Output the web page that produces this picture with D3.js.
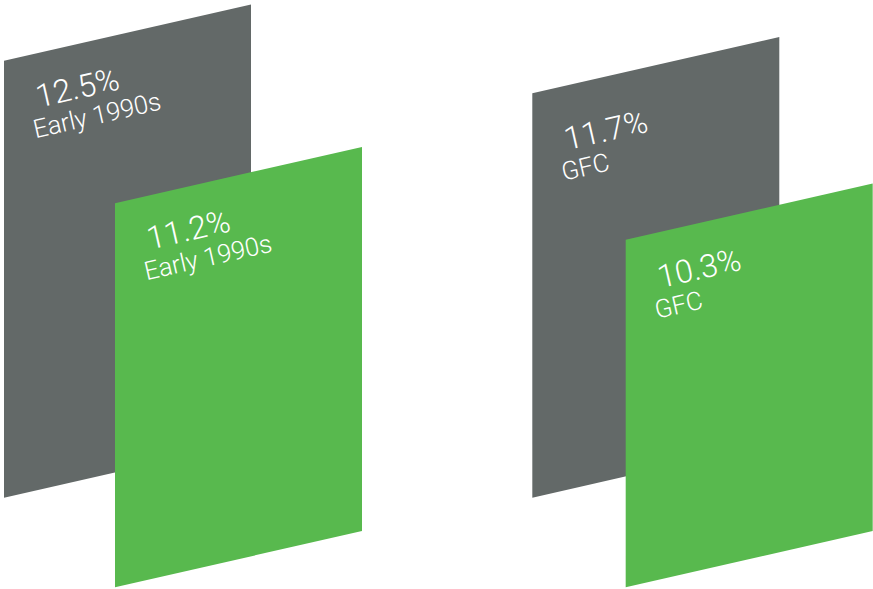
<!DOCTYPE html>
<html>
<head>
<meta charset="utf-8">
<script src="https://cdn.jsdelivr.net/npm/d3@7"></script>
<style>
  html, body { margin: 0; padding: 0; background: #ffffff; }
  svg { display: block; }
</style>
</head>
<body>
<svg id="chart" width="873" height="589"></svg>
<script>
// Episodes and the peak rates drawn for each
const categories = ["Early 1990s", "GFC"];
const backValues = [12.5, 11.7];
const frontValues = [11.2, 10.3];

const width = 873, height = 589;
const barWidth = 247;
const slope = 0.228;                       // rise of the skewed panels per px
const angle = Math.atan(slope) * 180 / Math.PI;

// Panel height from the rate
const y = d3.scaleLinear().domain([1.767, 12.5]).range([0, 437]);
// Left edge of each episode's back panel
const groupX = d3.scaleOrdinal().domain(categories).range([4, 532.3]);

const layers = [
  { key: "back",  values: backValues,  color: "#636968", base: 497.7,
    shift: [0, 0],      labelDy: [47.3, 57.3] },
  { key: "front", values: frontValues, color: "#58b94e", base: 587.3,
    shift: [111, 93.4], labelDy: [46.8, 48.7] }
];

const svg = d3.select("#chart");
const fmt = v => d3.format(".1f")(v) + "%";

layers.forEach(layer => {
  const items = categories.map((c, i) => {
    const x0 = groupX(c) + layer.shift[i];
    const h = y(layer.values[i]);
    const yTop = layer.base - h;
    return { c, i, v: layer.values[i], x0, yTop, yBase: layer.base };
  });

  const g = svg.append("g").attr("class", "layer-" + layer.key);

  g.selectAll("path.panel")
    .data(items)
    .join("path")
    .attr("class", "panel")
    .attr("fill", layer.color)
    .attr("d", d => {
      const rise = slope * barWidth;
      return d3.line()([
        [d.x0, d.yBase],
        [d.x0, d.yTop],
        [d.x0 + barWidth, d.yTop - rise],
        [d.x0 + barWidth, d.yBase - rise]
      ]) + "Z";
    });

  const labels = g.selectAll("g.label")
    .data(items)
    .join("g")
    .attr("class", "label")
    .attr("transform", d =>
      `translate(${d.x0 + 24.5},${d.yTop + layer.labelDy[d.i]}) rotate(${-angle})`);

  labels.append("text")
    .attr("x", 10).attr("y", 2)
    .attr("fill", "#ffffff")
    .style("font-family", "Roboto, 'Open Sans', sans-serif")
    .style("font-weight", 300)
    .style("font-size", "32px")
    .text(d => fmt(d.v));

  labels.append("text")
    .attr("x", 0).attr("y", 31)
    .attr("fill", "#ffffff")
    .style("font-family", "Roboto, 'Open Sans', sans-serif")
    .style("font-weight", 300)
    .style("font-size", "25.5px")
    .text(d => d.c);
});
</script>
</body>
</html>
